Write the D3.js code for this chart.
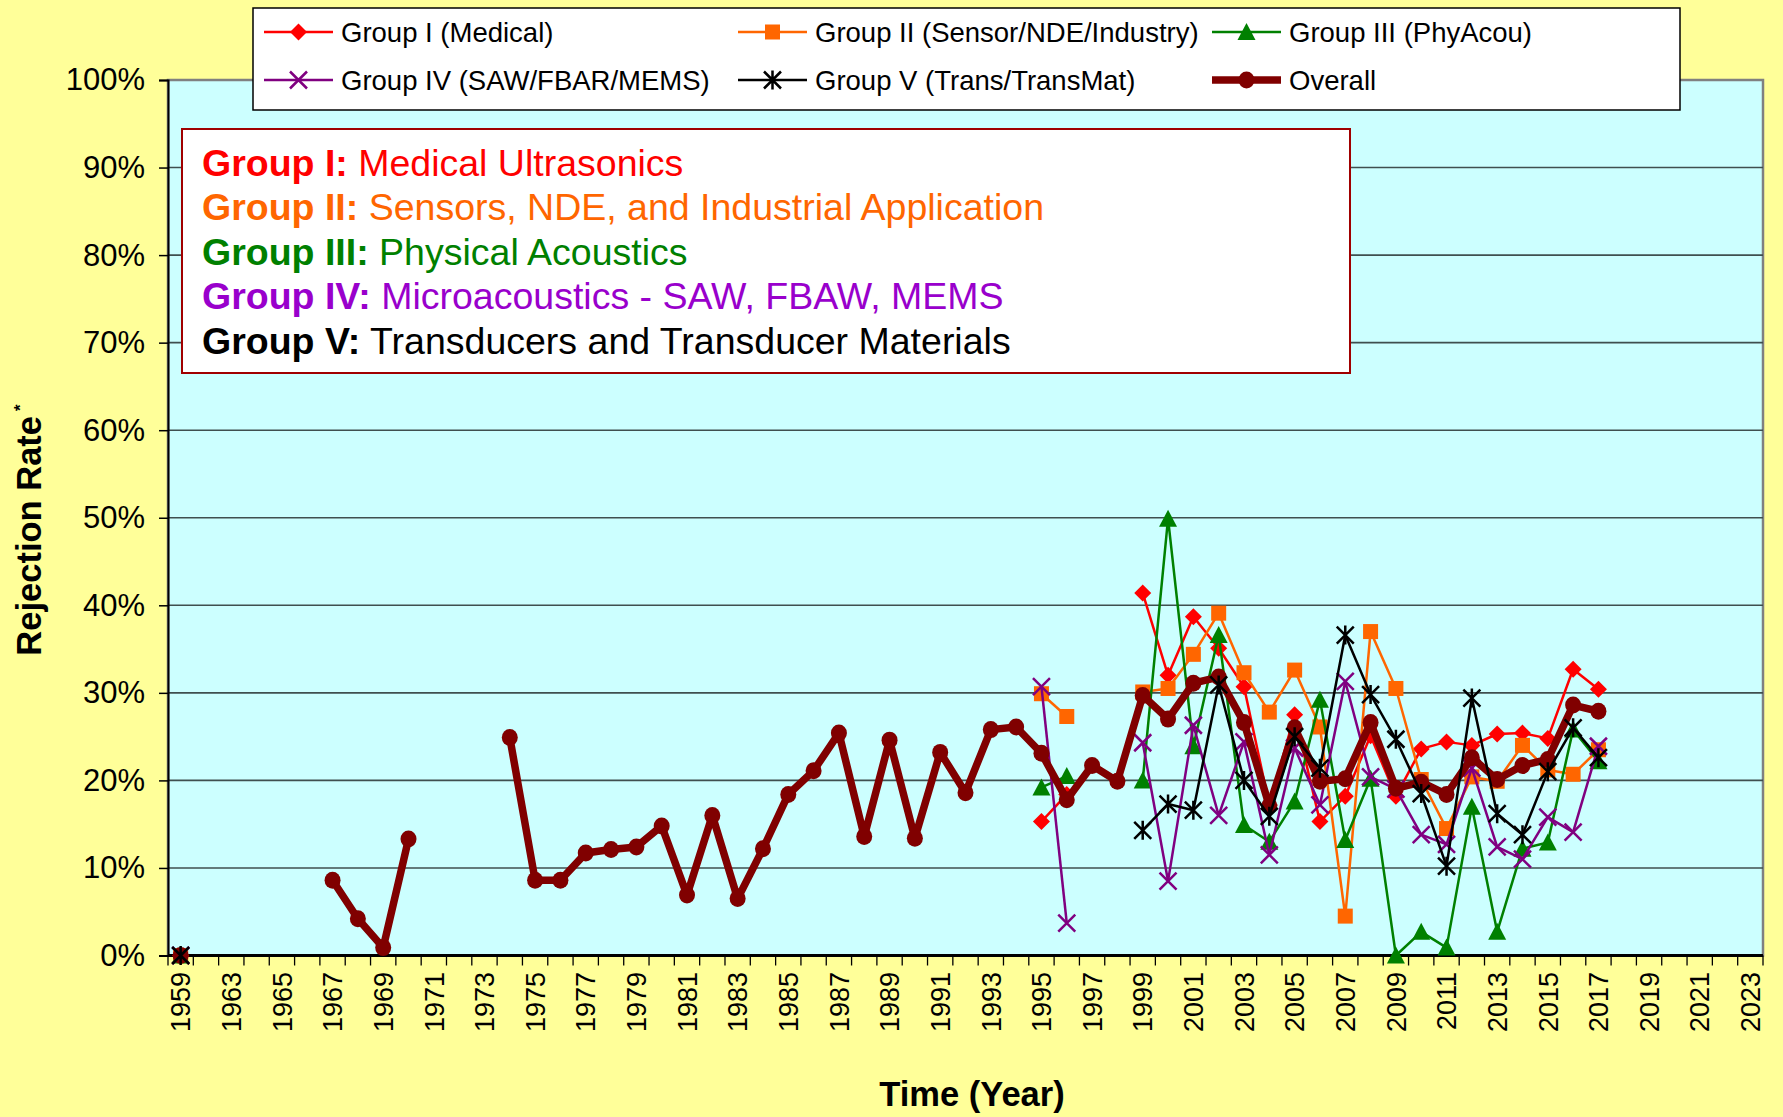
<!DOCTYPE html>
<html>
<head>
<meta charset="utf-8">
<script src="https://cdn.jsdelivr.net/npm/d3@7"></script>
<style>
  html, body { margin: 0; padding: 0; background: #FFFF99; }
  svg { display: block; font-family: "Liberation Sans", Arial, sans-serif; }
</style>
</head>
<body>
<svg id="chart" width="1783" height="1117"></svg>
<script>
// categories on the x axis (one unlabeled slot between 1959 and 1963)
const categories = ["1959", "1962"].concat(d3.range(1963, 2024).map(String));
const yTicks = [0, 0.1, 0.2, 0.3, 0.4, 0.5, 0.6, 0.7, 0.8, 0.9, 1.0];

// Overall rejection rate (%)
const overallYears = [1959, 1967, 1968, 1969, 1970, 1974, 1975, 1976, 1977, 1978, 1979, 1980,
  1981, 1982, 1983, 1984, 1985, 1986, 1987, 1988, 1989, 1990, 1991, 1992, 1993, 1994, 1995,
  1996, 1997, 1998, 1999, 2000, 2001, 2002, 2003, 2004, 2005, 2006, 2007, 2008, 2009, 2010,
  2011, 2012, 2013, 2014, 2015, 2016, 2017];
const overallValues = [0, 8.6, 4.2, 0.9, 13.3, 24.9, 8.6, 8.6, 11.7, 12.1, 12.4, 14.8,
  6.9, 16.0, 6.5, 12.2, 18.4, 21.1, 25.4, 13.6, 24.6, 13.4, 23.2, 18.6, 25.8, 26.1, 23.1,
  17.8, 21.7, 19.9, 29.7, 27.0, 31.1, 31.8, 26.6, 17.1, 26.0, 19.9, 20.2, 26.6, 19.1, 19.8,
  18.4, 22.6, 20.1, 21.7, 22.4, 28.6, 27.9];

// group series (%)
const groupYears = [1959, 1995, 1996, 1999, 2000, 2001, 2002, 2003, 2004, 2005, 2006, 2007,
  2008, 2009, 2010, 2011, 2012, 2013, 2014, 2015, 2016, 2017];
const groupI   = [0, 15.3, 18.4, 41.4, 32.0, 38.7, 35.1, 30.7, 17.2, 27.5, 15.3, 18.2,
  25.1, 18.2, 23.6, 24.4, 24.0, 25.3, 25.4, 24.8, 32.7, 30.4];
const groupII  = [0, 29.9, 27.3, 30.1, 30.5, 34.4, 39.1, 32.3, 27.8, 32.6, 26.1, 4.5,
  37.0, 30.5, 20.1, 14.5, 20.4, 19.9, 24.0, 21.2, 20.7, 23.5];
const groupIII = [0, 19.2, 20.5, 20.0, 49.9, 23.9, 36.6, 14.9, 13.0, 17.6, 29.2, 13.2,
  20.2, 0, 2.7, 0.9, 17.0, 2.7, 12.2, 12.9, 25.8, 22.2];
const groupIV  = [0, 30.7, 3.7, 24.3, 8.5, 26.3, 16.0, 24.4, 11.5, 23.7, 17.2, 31.3,
  20.4, 19.0, 13.8, 12.7, 21.4, 12.4, 11.0, 15.8, 14.1, 23.9];
const groupVYears = [1959, 1999, 2000, 2001, 2002, 2003, 2004, 2005, 2006, 2007,
  2008, 2009, 2010, 2011, 2012, 2013, 2014, 2015, 2016, 2017];
const groupV   = [0, 14.3, 17.3, 16.6, 30.9, 20.0, 15.9, 25.0, 21.4, 36.6,
  29.8, 24.7, 18.5, 10.2, 29.4, 16.2, 13.8, 21.0, 26.0, 22.6];

const series = [
  { name: "Group I (Medical)", years: groupYears, values: groupI, color: "#FF0000", marker: "diamond", width: 2.5 },
  { name: "Group II (Sensor/NDE/Industry)", years: groupYears, values: groupII, color: "#FF6600", marker: "square", width: 2.5 },
  { name: "Group III (PhyAcou)", years: groupYears, values: groupIII, color: "#008000", marker: "triangle", width: 2.5 },
  { name: "Group IV (SAW/FBAR/MEMS)", years: groupYears, values: groupIV, color: "#800080", marker: "x", width: 2.5 },
  { name: "Group V (Trans/TransMat)", years: groupVYears, values: groupV, color: "#000000", marker: "star", width: 2.5 },
  { name: "Overall", years: overallYears, values: overallValues, color: "#800000", marker: "circle", width: 7.5 }
];
// drawing order: overall sits under group V
const drawOrder = [0, 1, 2, 3, 5, 4];

const boxLines = [
  { bold: "Group I:", rest: " Medical Ultrasonics", color: "#FF0000" },
  { bold: "Group II:", rest: " Sensors, NDE, and Industrial Application", color: "#FF6600" },
  { bold: "Group III:", rest: " Physical Acoustics", color: "#008000" },
  { bold: "Group IV:", rest: " Microacoustics - SAW, FBAW, MEMS", color: "#9900CC" },
  { bold: "Group V:", rest: " Transducers and Transducer Materials", color: "#000000" }
];

const plot = { left: 168, right: 1763, top: 80, bottom: 955.5 };
const svg = d3.select("#chart");

svg.append("rect").attr("width", 1783).attr("height", 1117).attr("fill", "#FFFF99");

const x = d3.scaleBand().domain(categories).range([plot.left, plot.right]);
const y = d3.scaleLinear().domain([0, 1]).range([plot.bottom, plot.top]);
const catOf = yr => String(yr);
const cx = yr => x(catOf(yr)) + x.bandwidth() / 2;

// plot area
svg.append("rect")
  .attr("x", plot.left).attr("y", plot.top)
  .attr("width", plot.right - plot.left).attr("height", plot.bottom - plot.top)
  .attr("fill", "#CCFFFF").attr("stroke", "#808080").attr("stroke-width", 2.5);

// gridlines
svg.append("g").selectAll("line")
  .data(yTicks.filter(t => t > 0 && t < 1))
  .join("line")
  .attr("x1", plot.left).attr("x2", plot.right)
  .attr("y1", d => y(d)).attr("y2", d => y(d))
  .attr("stroke", "#3f4f4f").attr("stroke-width", 1.6);

// y axis
const yAxis = svg.append("g")
  .attr("transform", `translate(${plot.left},0)`)
  .call(d3.axisLeft(y).tickValues(yTicks).tickFormat(d3.format(".0%")).tickSize(9).tickPadding(14));
yAxis.select(".domain").attr("stroke", "#000").attr("stroke-width", 2);
yAxis.selectAll(".tick line").attr("stroke", "#000").attr("stroke-width", 1.5);
yAxis.selectAll("text").attr("font-size", 31).attr("fill", "#000")
  .attr("font-family", "'Liberation Sans', Arial, sans-serif");

// x axis: ticks on category boundaries
const bounds = d3.range(categories.length + 1).map(i => plot.left + i * x.bandwidth());
svg.append("g").selectAll("line")
  .data(bounds).join("line")
  .attr("x1", d => d).attr("x2", d => d)
  .attr("y1", plot.bottom).attr("y2", plot.bottom + 10)
  .attr("stroke", "#000").attr("stroke-width", 1.3);
svg.append("line")
  .attr("x1", plot.left).attr("x2", plot.right)
  .attr("y1", plot.bottom).attr("y2", plot.bottom)
  .attr("stroke", "#000").attr("stroke-width", 3);

svg.append("g").selectAll("text")
  .data(categories.filter((c, i) => i % 2 === 0))
  .join("text")
  .attr("transform", d => `translate(${x(d) + x.bandwidth() / 2},972) rotate(-90)`)
  .attr("text-anchor", "end")
  .attr("dy", "0.36em")
  .attr("font-size", 27)
  .text(d => d);

// axis titles
svg.append("text")
  .attr("x", 972).attr("y", 1106)
  .attr("text-anchor", "middle")
  .attr("font-size", 34.5).attr("font-weight", "bold")
  .text("Time (Year)");

const yt = svg.append("text")
  .attr("transform", "translate(41,530) rotate(-90)")
  .attr("text-anchor", "middle")
  .attr("font-size", 34.5).attr("font-weight", "bold");
yt.append("tspan").text("Rejection Rate");
yt.append("tspan").attr("font-size", 17).attr("dy", -15).attr("dx", 5).text("*");

// markers
function drawMarker(g, type, px, py, color) {
  const s = 8.5;
  if (type === "diamond") {
    g.append("path").attr("d", `M${px},${py - s}L${px + s},${py}L${px},${py + s}L${px - s},${py}Z`).attr("fill", color);
  } else if (type === "square") {
    g.append("rect").attr("x", px - 7.5).attr("y", py - 7.5).attr("width", 15).attr("height", 15).attr("fill", color);
  } else if (type === "triangle") {
    g.append("path").attr("d", `M${px},${py - 9}L${px + 9},${py + 8}L${px - 9},${py + 8}Z`).attr("fill", color);
  } else if (type === "x") {
    g.append("path").attr("d", `M${px - s},${py - s}L${px + s},${py + s}M${px - s},${py + s}L${px + s},${py - s}`)
      .attr("stroke", color).attr("stroke-width", 2.5);
  } else if (type === "star") {
    g.append("path").attr("d", `M${px - s},${py - s}L${px + s},${py + s}M${px - s},${py + s}L${px + s},${py - s}M${px},${py - s - 1}L${px},${py + s + 1}`)
      .attr("stroke", color).attr("stroke-width", 2.5);
  } else if (type === "circle") {
    g.append("ellipse").attr("cx", px).attr("cy", py).attr("rx", 8).attr("ry", 8.5).attr("fill", color);
  }
}

const line = d3.line().x(d => cx(d.year)).y(d => y(d.value / 100));

drawOrder.forEach(si => {
  const s = series[si];
  const pts = s.years.map((yr, i) => ({ year: yr, value: s.values[i] }));
  // split into runs of consecutive categories
  const runs = [];
  pts.forEach((p, i) => {
    const prev = pts[i - 1];
    const step = prev ? categories.indexOf(catOf(p.year)) - categories.indexOf(catOf(prev.year)) : 0;
    if (!prev || step !== 1) runs.push([p]); else runs[runs.length - 1].push(p);
  });
  const g = svg.append("g");
  runs.filter(r => r.length > 1).forEach(r => {
    g.append("path").attr("d", line(r)).attr("fill", "none")
      .attr("stroke", s.color).attr("stroke-width", s.width).attr("stroke-linejoin", "round");
  });
  pts.forEach(p => drawMarker(g, s.marker, cx(p.year), y(p.value / 100), s.color));
});

// legend
const legend = svg.append("g");
legend.append("rect").attr("x", 253).attr("y", 8).attr("width", 1427).attr("height", 102)
  .attr("fill", "#fff").attr("stroke", "#000").attr("stroke-width", 1.5);
const legendCols = [264, 738, 1212];
const legendRows = [32, 80];
series.forEach((s, k) => {
  const lx = legendCols[k % 3], ly = legendRows[Math.floor(k / 3)];
  legend.append("line").attr("x1", lx).attr("x2", lx + 69).attr("y1", ly).attr("y2", ly)
    .attr("stroke", s.color).attr("stroke-width", s.width);
  drawMarker(legend, s.marker, lx + 34.5, ly, s.color);
  legend.append("text").attr("x", lx + 77).attr("y", ly).attr("dy", "0.36em")
    .attr("font-size", 27.5).text(s.name);
});

// annotation box
const box = svg.append("g");
box.append("rect").attr("x", 182).attr("y", 129).attr("width", 1168).attr("height", 244)
  .attr("fill", "#fff").attr("stroke", "#A00000").attr("stroke-width", 2);
boxLines.forEach((b, i) => {
  const t = box.append("text").attr("x", 202).attr("y", 176 + i * 44.4)
    .attr("font-size", 37.5).attr("fill", b.color);
  t.append("tspan").attr("font-weight", "bold").text(b.bold);
  t.append("tspan").text(b.rest);
});
</script>
</body>
</html>
